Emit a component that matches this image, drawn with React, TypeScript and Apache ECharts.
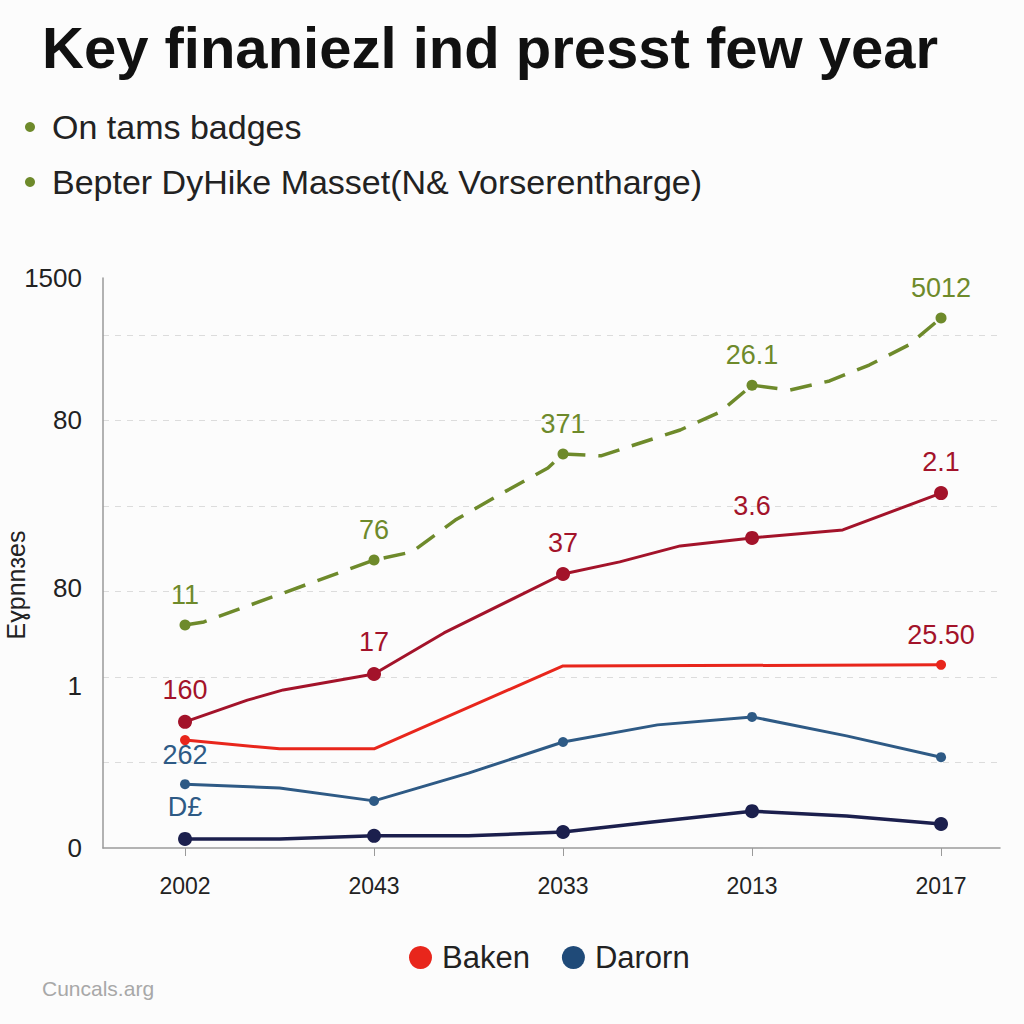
import React, { useEffect, useRef } from "react";
import * as echarts from "echarts";

// ---- data ----
const xLabels = ["2002", "2043", "2033", "2013", "2017"];
const xTickValues = [0, 1, 2, 3, 4];
const yTickValues = [0, 426, 684, 1126, 1500];
const yTickLabels = ["0", "1", "80", "80", "1500"];

const greenX = [0, 0.1, 1, 1.2, 1.43, 1.69, 1.92, 2, 2.2, 2.62, 2.83, 3, 3.2, 3.41, 3.62, 3.83, 4];
const greenY = [587, 595, 758, 779, 863, 937, 1000, 1037, 1032, 1100, 1147, 1218, 1205, 1229, 1271, 1324, 1395];
const greenLabels = ["11", "", "76", "", "", "", "", "371", "", "", "", "26.1", "", "", "", "", "5012"];

const darkRedX = [0, 0.33, 0.52, 1, 1.37, 2, 2.3, 2.62, 3, 3.48, 4];
const darkRedY = [332, 389, 416, 458, 566, 721, 753, 795, 816, 837, 934];
const darkRedLabels = ["160", "", "", "17", "", "37", "", "", "3.6", "", "2.1"];

const redX = [0, 0.5, 1, 2, 4];
const redY = [284, 261, 261, 479, 482];
const redLabels = ["", "", "", "", "25.50"];
const redMarkers = [true, false, false, false, true];

const blueX = [0, 0.5, 1, 1.5, 2, 2.5, 3, 3.5, 4];
const blueY = [168, 158, 124, 197, 279, 324, 345, 295, 239];
const blueLabels = ["262", "", "", "", "", "", "", "", ""];
const blueMarkers = [true, false, true, false, true, false, true, false, true];

const navyX = [0, 0.5, 1, 1.5, 2, 2.46, 3, 3.5, 4];
const navyY = [24, 24, 32, 32, 42, 68, 97, 84, 63];
const navyLabels = ["D£", "", "", "", "", "", "", "", ""];

const legendNames = ["Baken", "Darorn"];
const titleText = "Key finaniezl ind presst few year";
const bulletTexts = ["On tams badges", "Bepter DyHike Masset(N& Vorserentharge)"];
const yAxisTitle = "Eɣpnnɜes";
const footerText = "Cuncals.arg";

const GREEN = "#6e8a2b";
const DARKRED = "#a3132a";
const RED = "#e8261c";
const BLUE = "#2e5a85";
const BLUE_LEGEND = "#1f4a78";
const NAVY = "#1b1f4d";

function pts(xs: number[], ys: number[]) {
  return xs.map((x, i) => [x, ys[i]]);
}

export default function App() {
  const ref = useRef<HTMLDivElement>(null);
  useEffect(() => {
    document.body.style.margin = "0";
    const chart = echarts.init(ref.current!, null, { renderer: "svg" });
    const font = "Liberation Sans";
    const labelBase = (color: string, labels: string[]) => ({
      show: true,
      position: "top",
      distance: 11,
      fontSize: 27,
      fontFamily: font,
      color,
      formatter: (p: any) => labels[p.dataIndex],
    });
    const option: any = {
      animation: false,
      backgroundColor: "#fcfcfc",
      grid: { left: 103, right: 24, top: 278, bottom: 176 },
      xAxis: {
        type: "value",
        min: -0.434,
        max: 4.312,
        axisLine: { show: true, onZero: false, lineStyle: { color: "#9a9a9a", width: 1.5 } },
        axisTick: { show: true, length: 8, customValues: xTickValues, lineStyle: { color: "#9a9a9a" } },
        axisLabel: {
          customValues: xTickValues,
          formatter: (v: number) => xLabels[Math.round(v)] ?? "",
          fontSize: 23,
          fontFamily: font,
          color: "#222",
          margin: 26,
        },
        splitLine: { show: false },
      },
      yAxis: {
        type: "value",
        min: 0,
        max: 1500,
        interval: 225,
        axisLine: { show: true, onZero: false, lineStyle: { color: "#9a9a9a", width: 1.5 } },
        axisTick: { show: false },
        axisLabel: {
          customValues: yTickValues,
          formatter: (v: number) => {
            const i = yTickValues.indexOf(v);
            return i >= 0 ? yTickLabels[i] : "";
          },
          fontSize: 26,
          fontFamily: font,
          color: "#222",
          margin: 21,
        },
        splitLine: {
          show: true,
          showMinLine: false,
          showMaxLine: false,
          lineStyle: { color: "#dcdcdc", type: [6, 6], width: 1.2 },
        },
      },
      legend: {
        top: 942,
        left: 409,
        padding: 0,
        icon: "circle",
        itemWidth: 23,
        itemHeight: 23,
        itemGap: 32,
        textStyle: { fontSize: 31, fontFamily: font, color: "#222", padding: [0, 0, 0, 5] },
        data: [
          { name: legendNames[0], itemStyle: { color: RED } },
          { name: legendNames[1], itemStyle: { color: BLUE_LEGEND } },
        ],
      },
      series: [
        {
          name: "Green",
          type: "line",
          data: pts(greenX, greenY),
          symbol: "circle",
          symbolSize: (v: number[]) => (Number.isInteger(v[0]) ? 11 : 0),
          lineStyle: { color: GREEN, width: 3.5, type: [22, 13] },
          itemStyle: { color: GREEN },
          label: labelBase(GREEN, greenLabels),
          z: 5,
        },
        {
          name: "DarkRed",
          type: "line",
          data: pts(darkRedX, darkRedY),
          symbol: "circle",
          symbolSize: (v: number[]) => (Number.isInteger(v[0]) ? 14 : 0),
          lineStyle: { color: DARKRED, width: 3 },
          itemStyle: { color: DARKRED },
          label: labelBase(DARKRED, darkRedLabels),
          z: 4,
        },
        {
          name: legendNames[0],
          type: "line",
          data: pts(redX, redY),
          symbol: "circle",
          symbolSize: (_v: number[], p: any) => (redMarkers[p.dataIndex] ? 10 : 0),
          lineStyle: { color: RED, width: 3 },
          itemStyle: { color: RED },
          label: labelBase(DARKRED, redLabels),
          z: 3,
        },
        {
          name: legendNames[1],
          type: "line",
          data: pts(blueX, blueY),
          symbol: "circle",
          symbolSize: (_v: number[], p: any) => (blueMarkers[p.dataIndex] ? 10 : 0),
          lineStyle: { color: BLUE, width: 3 },
          itemStyle: { color: BLUE },
          label: labelBase(BLUE, blueLabels),
          z: 3,
        },
        {
          name: "Navy",
          type: "line",
          data: pts(navyX, navyY),
          symbol: "circle",
          symbolSize: (v: number[]) => (Number.isInteger(v[0]) ? 14 : 0),
          lineStyle: { color: NAVY, width: 3.5 },
          itemStyle: { color: NAVY },
          label: labelBase(BLUE, navyLabels),
          z: 3,
        },
      ],
      graphic: [
        {
          type: "text",
          left: 42,
          top: 18,
          style: {
            text: titleText,
            font: `bold 58px "${font}"`,
            fill: "#111",
          },
        },
        { type: "circle", shape: { cx: 30, cy: 127, r: 5 }, style: { fill: GREEN } },
        {
          type: "text",
          x: 52,
          y: 127,
          style: { text: bulletTexts[0], font: `34px "${font}"`, fill: "#222", textVerticalAlign: "middle" },
        },
        { type: "circle", shape: { cx: 30, cy: 182, r: 5 }, style: { fill: GREEN } },
        {
          type: "text",
          x: 52,
          y: 182,
          style: { text: bulletTexts[1], font: `34px "${font}"`, fill: "#222", textVerticalAlign: "middle" },
        },
        {
          type: "text",
          x: 16,
          y: 585,
          rotation: Math.PI / 2,
          style: {
            text: yAxisTitle,
            font: `25px "${font}"`,
            fill: "#222",
            textAlign: "center",
            textVerticalAlign: "middle",
          },
        },
        {
          type: "text",
          x: 42,
          y: 988,
          style: { text: footerText, font: `21px "${font}"`, fill: "#a8a8a8", textVerticalAlign: "middle" },
        },
      ],
    };
    chart.setOption(option);
    return () => chart.dispose();
  }, []);
  return <div ref={ref} style={{ width: 1024, height: 1024 }} />;
}
